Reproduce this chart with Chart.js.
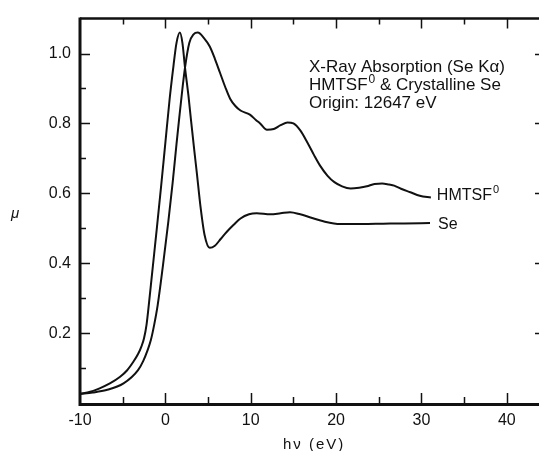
<!DOCTYPE html>
<html>
<head>
<meta charset="utf-8">
<script src="https://cdn.jsdelivr.net/npm/chart.js@4/dist/chart.umd.min.js"></script>
<style>
  html, body { margin: 0; padding: 0; background: #fff; overflow: hidden; }
  #grafico { display: block; }
</style>
</head>
<body>
<canvas id="grafico" width="545" height="451"></canvas>
<script>
// energia relativa al origen (eV) y absorcion mu
const seX = [-10, -8.8, -7.7, -6.5, -5.3, -4.5, -3.75, -3.2, -2.8, -2.5, -2.2, -1.9, -1.6, -1.3, -1.0, -0.5, 0, 0.5, 0.95, 1.3, 1.7, 2.0, 2.3, 2.7, 3.0, 3.4, 3.7, 4.1, 4.6, 5.2, 5.8, 6.5, 7.2, 8.0, 8.8, 9.8, 10.7, 12.3, 13.5, 14.6, 15.8, 17.0, 18.5, 20.5, 23.0, 25.5, 28.0, 31.0];
const seY = [0.026, 0.032, 0.042, 0.056, 0.075, 0.093, 0.118, 0.14, 0.162, 0.185, 0.225, 0.29, 0.36, 0.43, 0.50, 0.62, 0.745, 0.87, 0.965, 1.03, 1.06, 1.03, 0.96, 0.88, 0.81, 0.72, 0.655, 0.565, 0.48, 0.444, 0.45, 0.47, 0.49, 0.51, 0.528, 0.54, 0.543, 0.54, 0.543, 0.546, 0.54, 0.531, 0.52, 0.512, 0.512, 0.513, 0.514, 0.515];

const hmX = [-10, -8.5, -6.9, -4.9, -3.2, -2.6, -2.1, -1.7, -1.3, -0.9, -0.3, 0.35, 0.85, 1.3, 1.6, 2.0, 2.3, 2.8, 3.3, 3.8, 4.5, 5.2, 5.8, 6.4, 7.0, 7.6, 8.2, 8.8, 9.9, 10.6, 11.1, 11.9, 12.7, 13.5, 14.3, 15.0, 15.8, 16.6, 17.4, 18.1, 19.0, 19.8, 20.7, 21.7, 22.7, 23.6, 24.5, 25.4, 26.2, 26.8, 27.6, 28.7, 29.8, 31.1];
const hmY = [0.026, 0.03, 0.037, 0.056, 0.094, 0.12, 0.15, 0.18, 0.225, 0.28, 0.39, 0.52, 0.63, 0.74, 0.81, 0.9, 0.96, 1.03, 1.055, 1.06, 1.045, 1.02, 0.985, 0.945, 0.905, 0.87, 0.85, 0.837, 0.825, 0.81, 0.80, 0.782, 0.784, 0.795, 0.803, 0.80, 0.78, 0.747, 0.71, 0.68, 0.65, 0.632, 0.62, 0.614, 0.616, 0.62, 0.627, 0.628, 0.625, 0.622, 0.613, 0.603, 0.593, 0.588];

const ticksX = [-10, 0, 10, 20, 30, 40];
const minorX = [-5, 5, 15, 25, 35];
const ticksY = [0.2, 0.4, 0.6, 0.8, 1.0];
const minorY = [0.1, 0.3, 0.5, 0.7, 0.9];

const titulo = ['X-Ray Absorption (Se K\u03b1)', 'HMTSF', 'Origin: 12647 eV'];

const fuente = '"Liberation Sans", Arial, Helvetica, sans-serif';
const tinta = '#111';

function puntos(xs, ys) {
    return xs.map((x, i) => ({ x: x, y: ys[i] }));
}

// texto con superindice "0"
function conCero(ctx, texto, x, y, size, resto) {
    ctx.font = size + 'px ' + fuente;
    ctx.fillText(texto, x, y);
    let w = ctx.measureText(texto).width;
    ctx.font = Math.round(size * 0.68) + 'px ' + fuente;
    ctx.fillText('0', x + w + 1, y - size * 0.42);
    w += ctx.measureText('0').width + 1;
    if (resto) {
        ctx.font = size + 'px ' + fuente;
        ctx.fillText(resto, x + w, y);
    }
}

const marco = {
    id: 'marco',
    afterDatasetsDraw(chart) {
        const ctx = chart.ctx;
        const a = chart.chartArea;
        const sx = chart.scales.x;
        const sy = chart.scales.y;
        ctx.save();
        ctx.strokeStyle = tinta;
        ctx.lineCap = 'butt';

        // bordes
        ctx.lineWidth = 3;
        ctx.beginPath();
        ctx.moveTo(a.left, a.top - 1);
        ctx.lineTo(a.left, a.bottom + 1.5);
        ctx.lineTo(a.right, a.bottom + 1.5);
        ctx.stroke();
        ctx.lineWidth = 2.5;
        ctx.beginPath();
        ctx.moveTo(a.left, a.top);
        ctx.lineTo(a.right, a.top);
        ctx.lineTo(a.right, a.bottom);
        ctx.stroke();

        // marcas hacia dentro
        ctx.lineWidth = 1.5;
        ctx.beginPath();
        ticksX.concat(minorX).forEach(v => {
            const px = Math.round(sx.getPixelForValue(v)) + 0.5;
            const largo = minorX.includes(v) ? 6 : 10;
            if (v !== -10) {
                ctx.moveTo(px, a.bottom);
                ctx.lineTo(px, a.bottom - largo);
                ctx.moveTo(px, a.top);
                ctx.lineTo(px, a.top + largo);
            }
        });
        ticksY.concat(minorY).forEach(v => {
            const py = Math.round(sy.getPixelForValue(v)) + 0.5;
            const largo = minorY.includes(v) ? 6 : 10;
            ctx.moveTo(a.left, py);
            ctx.lineTo(a.left + largo, py);
            if (!minorY.includes(v)) {
                ctx.moveTo(a.right, py);
                ctx.lineTo(a.right - 6, py);
            }
        });
        ctx.stroke();
        ctx.restore();
    },
    afterDraw(chart) {
        const ctx = chart.ctx;
        const sx = chart.scales.x;
        const sy = chart.scales.y;
        ctx.save();
        ctx.fillStyle = tinta;
        ctx.textBaseline = 'alphabetic';
        ctx.textAlign = 'left';

        // bloque de titulo
        ctx.font = '17px ' + fuente;
        ctx.fillText(titulo[0], 309, 72);
        conCero(ctx, titulo[1], 309, 90, 17, ' & Crystalline Se');
        ctx.font = '17px ' + fuente;
        ctx.fillText(titulo[2], 309, 108);

        // etiquetas de las curvas
        const ult = hmX.length - 1;
        conCero(ctx, 'HMTSF', sx.getPixelForValue(hmX[ult]) + 6, sy.getPixelForValue(hmY[ult]) + 2, 16);
        ctx.font = '16px ' + fuente;
        const us = seX.length - 1;
        ctx.fillText('Se', sx.getPixelForValue(seX[us]) + 8, sy.getPixelForValue(seY[us]) + 6);

        // titulos de ejes
        ctx.font = 'italic 15px ' + fuente;
        ctx.fillText('\u03bc', 11, 218);
        ctx.font = '15px ' + fuente;
        ctx.letterSpacing = '2px';
        ctx.fillText('h\u03bd (eV)', 283, 449);
        ctx.restore();
    }
};

const ctx = document.getElementById('grafico').getContext('2d');

const chart = new Chart(ctx, {
    type: 'scatter',
    data: {
        datasets: [{
            label: 'HMTSF',
            data: puntos(hmX, hmY),
            showLine: true,
            borderColor: tinta,
            borderWidth: 2,
            pointRadius: 0,
            cubicInterpolationMode: 'monotone'
        }, {
            label: 'Se',
            data: puntos(seX, seY),
            showLine: true,
            borderColor: tinta,
            borderWidth: 2,
            pointRadius: 0,
            cubicInterpolationMode: 'monotone'
        }]
    },
    options: {
        responsive: false,
        animation: false,
        layout: { padding: { top: 15, right: 4, left: 0, bottom: 0 } },
        plugins: {
            legend: { display: false },
            tooltip: { enabled: false }
        },
        scales: {
            x: {
                type: 'linear',
                min: -10,
                max: 44,
                border: { display: false },
                grid: { display: false, drawTicks: false },
                ticks: {
                    stepSize: 10,
                    includeBounds: false,
                    color: tinta,
                    padding: 8,
                    maxRotation: 0,
                    font: { family: fuente, size: 16 }
                },
                afterFit: s => { s.height = 48; }
            },
            y: {
                min: 0,
                max: 1.1,
                border: { display: false },
                grid: { display: false, drawTicks: false },
                ticks: {
                    stepSize: 0.2,
                    includeBounds: false,
                    color: tinta,
                    padding: 9,
                    font: { family: fuente, size: 16 },
                    callback: v => (v < 0.05 ? '' : v.toFixed(1))
                },
                afterFit: s => { s.width = 80; }
            }
        }
    },
    plugins: [marco]
});
</script>
</body>
</html>
